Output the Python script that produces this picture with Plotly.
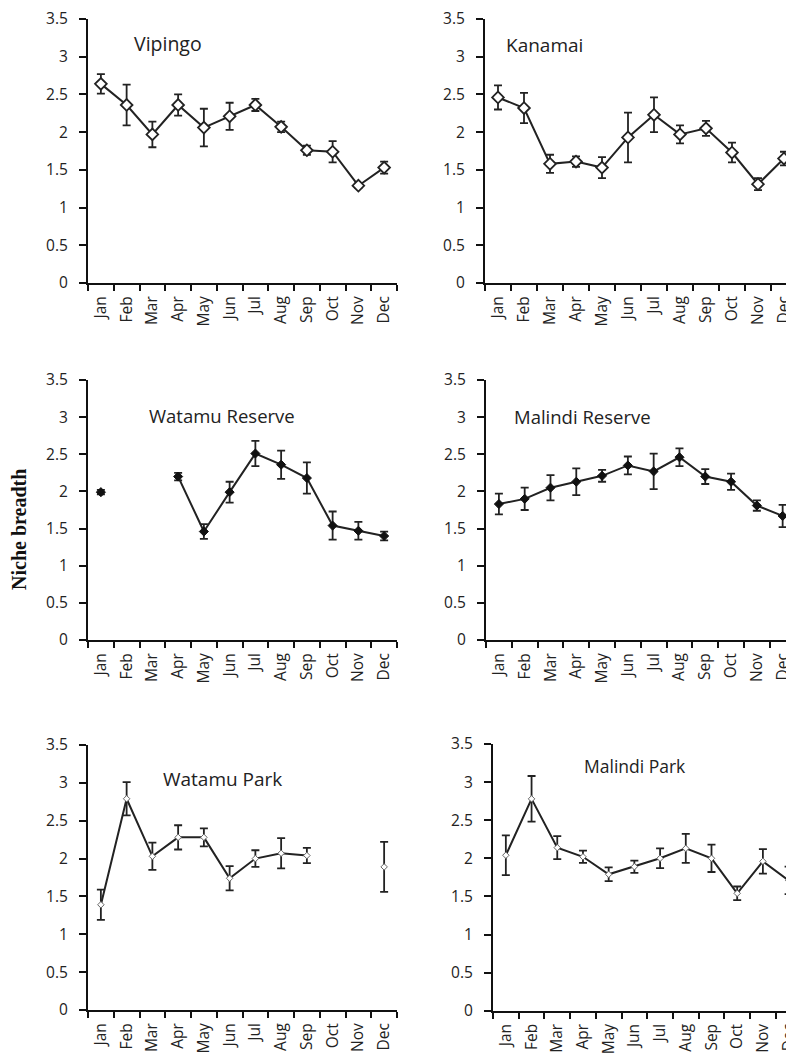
import plotly.graph_objects as go

months = ["Jan", "Feb", "Mar", "Apr", "May", "Jun", "Jul", "Aug", "Sep", "Oct", "Nov", "Dec"]

vipingo = [2.64, 2.36, 1.97, 2.36, 2.06, 2.21, 2.36, 2.07, 1.76, 1.74, 1.29, 1.53]
vipingo_err = [0.13, 0.27, 0.17, 0.14, 0.25, 0.18, 0.08, 0.07, 0.06, 0.14, 0.03, 0.08]

kanamai = [2.46, 2.32, 1.58, 1.61, 1.53, 1.93, 2.23, 1.97, 2.05, 1.73, 1.31, 1.65]
kanamai_err = [0.16, 0.20, 0.12, 0.07, 0.14, 0.33, 0.23, 0.12, 0.10, 0.13, 0.08, 0.09]

watamu_reserve = [1.99, None, None, 2.20, 1.46, 1.99, 2.51, 2.36, 2.18, 1.54, 1.47, 1.40]
watamu_reserve_err = [0.03, None, None, 0.05, 0.10, 0.14, 0.17, 0.19, 0.21, 0.19, 0.12, 0.06]

malindi_reserve = [1.83, 1.90, 2.05, 2.13, 2.21, 2.35, 2.27, 2.46, 2.20, 2.13, 1.81, 1.67]
malindi_reserve_err = [0.14, 0.15, 0.17, 0.18, 0.08, 0.12, 0.24, 0.12, 0.10, 0.11, 0.07, 0.15]

watamu_park = [1.39, 2.79, 2.03, 2.28, 2.28, 1.74, 2.00, 2.07, 2.04, None, None, 1.89]
watamu_park_err = [0.20, 0.22, 0.18, 0.16, 0.12, 0.16, 0.11, 0.20, 0.10, None, None, 0.33]

malindi_park = [2.04, 2.78, 2.14, 2.02, 1.79, 1.89, 2.00, 2.13, 2.00, 1.54, 1.96, 1.71]
malindi_park_err = [0.26, 0.30, 0.15, 0.08, 0.09, 0.08, 0.13, 0.19, 0.18, 0.09, 0.16, 0.18]

site_names = ["Vipingo", "Kanamai", "Watamu Reserve", "Malindi Reserve", "Watamu Park", "Malindi Park"]
site_values = [vipingo, kanamai, watamu_reserve, malindi_reserve, watamu_park, malindi_park]
site_errors = [vipingo_err, kanamai_err, watamu_reserve_err, malindi_reserve_err, watamu_park_err, malindi_park_err]

# page body has an 8px margin: figure origin sits at (8, 8) of the window
OFF = 8
W, H = 794 - OFF, 1058 - OFF


def fx(px):
    return (px - OFF) / W


def fy(py):
    return 1 - (py - OFF) / H


# panel geometry in window pixels: (left, right, top(y=3.5), bottom(y=0), x_range_end)
panels = [
    (88, 397, 19, 283, 11.5),
    (485, 794, 19, 283, 11.385),
    (88, 397, 380, 640, 11.5),
    (486, 794, 380, 640, 11.44),
    (88, 397, 745, 1010, 11.5),
    (493, 794, 744, 1010.7, 11.21),
]
markers = [
    dict(symbol="diamond", size=9, color="white", line=dict(color="#222", width=1.8)),
    dict(symbol="diamond", size=9, color="white", line=dict(color="#222", width=1.8)),
    dict(symbol="diamond", size=7, color="#111", line=dict(color="#111", width=1)),
    dict(symbol="diamond", size=7, color="#111", line=dict(color="#111", width=1)),
    dict(symbol="diamond", size=5, color="white", line=dict(color="#666", width=1)),
    dict(symbol="diamond", size=5, color="white", line=dict(color="#666", width=1)),
]
# title annotations: (x px center, y px center, font size)
titles = [
    (168, 44, 19.5),
    (544, 45, 19),
    (222, 415, 18.5),
    (582, 416, 18.5),
    (222, 779, 19),
    (635, 766, 17.5),
]

fig = go.Figure()
layout = dict(
    width=W, height=H, autosize=False,
    margin=dict(l=0, r=0, t=0, b=0, pad=0),
    paper_bgcolor="white", plot_bgcolor="white",
    showlegend=False,
    annotations=[],
)
tickfont = dict(family="Open Sans", size=15.5, color="#222")

for i in range(6):
    left, right, top, bottom, xend = panels[i]
    xa = "x" if i == 0 else f"x{i+1}"
    ya = "y" if i == 0 else f"y{i+1}"
    fig.add_trace(go.Scatter(
        x=months, y=site_values[i], xaxis=xa, yaxis=ya,
        mode="lines+markers",
        line=dict(color="#222", width=2),
        marker=markers[i],
        error_y=dict(type="data", array=site_errors[i], visible=True,
                     color="#222", thickness=1.8, width=4),
        connectgaps=False, cliponaxis=False,
    ))
    xkey = "xaxis" if i == 0 else f"xaxis{i+1}"
    ykey = "yaxis" if i == 0 else f"yaxis{i+1}"
    layout[xkey] = dict(
        domain=[fx(left), min(fx(right), 1.0)], anchor=ya,
        type="category", categoryorder="array", categoryarray=months,
        range=[-0.5, xend], tickson="boundaries",
        showline=True, linecolor="#111", linewidth=2,
        ticks="outside", ticklen=6, tickwidth=2, tickcolor="#111",
        tickangle=-90, tickfont=tickfont, ticklabelstandoff=5,
        ticklabeloverflow="allow",
        showgrid=False, zeroline=False, fixedrange=True, automargin=False,
    )
    layout[ykey] = dict(
        domain=[fy(bottom), fy(top)], anchor=xa,
        range=[0, 3.5], dtick=0.5, tick0=0,
        showline=True, linecolor="#111", linewidth=2,
        ticks="outside", ticklen=7, tickwidth=2, tickcolor="#111",
        tickfont=tickfont, ticklabelstandoff=8,
        ticklabeloverflow="allow",
        showgrid=False, zeroline=False, fixedrange=True, automargin=False,
    )
    tx, ty, ts = titles[i]
    layout["annotations"].append(dict(
        text=site_names[i], x=fx(tx), y=fy(ty), xref="paper", yref="paper",
        showarrow=False, xanchor="center", yanchor="middle",
        font=dict(family="Open Sans", size=ts, color="#222"),
    ))

layout["annotations"].append(dict(
    text="<b>Niche breadth</b>", x=fx(19), y=fy(530), xref="paper", yref="paper",
    showarrow=False, textangle=-90, xanchor="center", yanchor="middle",
    font=dict(family="Liberation Serif", size=20, color="#111"),
))

fig.update_layout(**layout)
fig.write_html("out.html")
